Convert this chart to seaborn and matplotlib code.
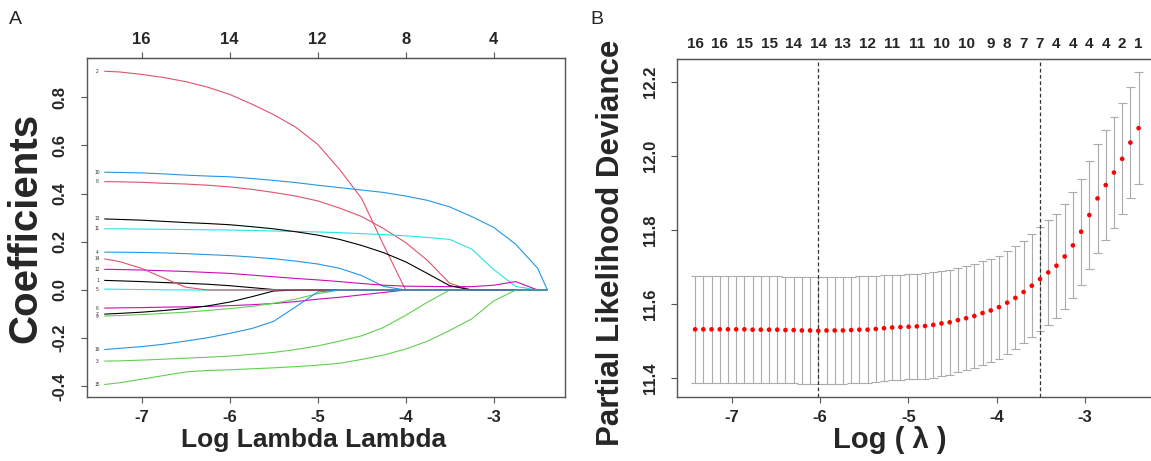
import matplotlib
matplotlib.use("Agg")
import matplotlib.pyplot as plt
import seaborn as sns
import numpy as np
import pandas as pd

# ---- panel A: lasso coefficient paths ----
path_lambda = [-7.42, -7.25, -7.0, -6.75, -6.5, -6.25, -6.0, -5.75, -5.5, -5.25, -5.0,
               -4.75, -4.5, -4.25, -4.0, -3.75, -3.5, -3.25, -3.0, -2.75, -2.5, -2.39]

coef_1 = [0.040, 0.038, 0.035, 0.031, 0.028, 0.024, 0.018, 0.010, 0.002, 0, 0, 0, 0, 0, 0, 0, 0, 0, 0, 0, 0, 0]
coef_2 = [0.908, 0.905, 0.895, 0.882, 0.865, 0.842, 0.812, 0.772, 0.728, 0.676, 0.605, 0.50, 0.38, 0.186, 0, 0, 0, 0, 0, 0, 0, 0]
coef_3 = [-0.295, -0.294, -0.291, -0.287, -0.283, -0.279, -0.274, -0.267, -0.259, -0.247, -0.232, -0.212, -0.19, -0.155, -0.105, -0.05, 0, 0, 0, 0, 0, 0]
coef_4 = [0.157, 0.157, 0.156, 0.154, 0.151, 0.147, 0.143, 0.137, 0.130, 0.120, 0.108, 0.090, 0.060, 0.015, 0, 0, 0, 0, 0, 0, 0, 0]
coef_5 = [0.004, 0.003, 0.002, 0.001, 0.0003, 0, 0, 0, 0, 0, 0, 0, 0, 0, 0, 0, 0, 0, 0, 0, 0, 0]
coef_6 = [-0.075, -0.074, -0.073, -0.071, -0.070, -0.068, -0.065, -0.061, -0.056, -0.048, -0.038, -0.030, -0.020, -0.010, 0, 0, 0, 0, 0, 0, 0, 0]
coef_7 = [-0.100, -0.097, -0.092, -0.085, -0.077, -0.066, -0.050, -0.028, -0.004, 0, 0, 0, 0, 0, 0, 0, 0, 0, 0, 0, 0, 0]
coef_8 = [0.450, 0.449, 0.447, 0.443, 0.440, 0.435, 0.428, 0.418, 0.405, 0.390, 0.370, 0.340, 0.305, 0.255, 0.197, 0.122, 0.028, 0, 0, 0, 0, 0]
coef_9 = [-0.108, -0.106, -0.102, -0.097, -0.092, -0.085, -0.077, -0.068, -0.055, -0.038, -0.015, 0, 0, 0, 0, 0, 0, 0, 0, 0, 0, 0]
coef_10 = [0.489, 0.488, 0.486, 0.482, 0.477, 0.473, 0.470, 0.463, 0.455, 0.446, 0.435, 0.425, 0.415, 0.405, 0.390, 0.372, 0.345, 0.305, 0.260, 0.190, 0.090, 0]
coef_11 = [0.254, 0.254, 0.253, 0.252, 0.251, 0.250, 0.249, 0.247, 0.245, 0.243, 0.241, 0.238, 0.234, 0.230, 0.225, 0.218, 0.210, 0.170, 0.085, 0.015, 0, 0]
coef_12 = [0.086, 0.085, 0.083, 0.080, 0.077, 0.073, 0.069, 0.062, 0.055, 0.048, 0.042, 0.035, 0.027, 0.020, 0.016, 0.015, 0.014, 0.014, 0.020, 0.035, 0, 0]
coef_13 = [0.295, 0.293, 0.290, 0.285, 0.280, 0.276, 0.271, 0.263, 0.254, 0.242, 0.228, 0.210, 0.185, 0.155, 0.117, 0.068, 0.018, 0, 0, 0, 0, 0]
coef_14 = [0.129, 0.118, 0.090, 0.050, 0.012, 0, 0, 0, 0, 0, 0, 0, 0, 0, 0, 0, 0, 0, 0, 0, 0, 0]
coef_15 = [-0.392, -0.385, -0.370, -0.355, -0.340, -0.334, -0.331, -0.327, -0.323, -0.318, -0.312, -0.304, -0.288, -0.270, -0.245, -0.212, -0.168, -0.120, -0.045, 0, 0, 0]
coef_16 = [-0.247, -0.242, -0.235, -0.225, -0.212, -0.198, -0.180, -0.160, -0.130, -0.070, -0.008, 0, 0, 0, 0, 0, 0, 0, 0, 0, 0, 0]

coef_paths = [coef_1, coef_2, coef_3, coef_4, coef_5, coef_6, coef_7, coef_8,
              coef_9, coef_10, coef_11, coef_12, coef_13, coef_14, coef_15, coef_16]
var_names = [str(i) for i in range(1, 17)]

top_df_ticks = [-7, -6, -5, -4, -3]
top_df_labels = ["16", "14", "12", "8", "4"]

# ---- panel B: cross-validation curve ----
cv_lambda = [-7.415, -7.322, -7.229, -7.136, -7.043, -6.950, -6.857, -6.764, -6.671, -6.578,
             -6.485, -6.392, -6.299, -6.206, -6.113, -6.020, -5.927, -5.834, -5.741, -5.648,
             -5.555, -5.462, -5.369, -5.276, -5.183, -5.090, -4.997, -4.904, -4.811, -4.718,
             -4.625, -4.532, -4.439, -4.346, -4.253, -4.160, -4.067, -3.974, -3.881, -3.788,
             -3.695, -3.602, -3.509, -3.416, -3.323, -3.230, -3.137, -3.044, -2.951, -2.858,
             -2.765, -2.672, -2.579, -2.486, -2.393]
cv_mean = [11.532, 11.532, 11.532, 11.532, 11.532, 11.532, 11.532, 11.531, 11.531, 11.531,
           11.531, 11.530, 11.530, 11.529, 11.529, 11.528, 11.529, 11.529, 11.529, 11.530,
           11.531, 11.531, 11.533, 11.535, 11.537, 11.538, 11.539, 11.540, 11.541, 11.544,
           11.548, 11.551, 11.557, 11.562, 11.568, 11.576, 11.583, 11.592, 11.604, 11.617,
           11.633, 11.650, 11.668, 11.686, 11.704, 11.729, 11.759, 11.796, 11.841, 11.886,
           11.922, 11.956, 11.993, 12.037, 12.076]
cv_sd = [0.144, 0.144, 0.144, 0.144, 0.144, 0.144, 0.144, 0.144, 0.144, 0.144,
         0.144, 0.144, 0.144, 0.144, 0.145, 0.145, 0.145, 0.145, 0.144, 0.144,
         0.144, 0.144, 0.143, 0.143, 0.143, 0.142, 0.142, 0.142, 0.143, 0.143,
         0.142, 0.142, 0.141, 0.141, 0.140, 0.140, 0.140, 0.139, 0.139, 0.139,
         0.139, 0.140, 0.141, 0.141, 0.141, 0.142, 0.143, 0.143, 0.145, 0.147,
         0.148, 0.149, 0.150, 0.150, 0.151]
nz_labels = ["16", "16", "15", "15", "14", "14", "13", "12", "11", "11", "10",
             "10", "9", "8", "7", "7", "4", "4", "4", "4", "2", "1"]
nz_index = [0, 3, 6, 9, 12, 15, 18, 21, 24, 27, 30, 33, 36, 38, 40, 42, 44, 46, 48, 50, 52, 54]

r_cols = ["#000000", "#DF536B", "#61D04F", "#2297E6", "#28E2E5", "#CD0BBC"]
axis_col = "#555555"

sns.set_style("ticks")
plt.rcParams["font.family"] = ["Liberation Sans", "DejaVu Sans"]
plt.rcParams["axes.unicode_minus"] = False

W, H = 1151, 461
fig = plt.figure(figsize=(W / 100, H / 100), dpi=100)
ax1 = fig.add_axes([87 / W, 64 / H, 478 / W, 339 / H])
ax2 = fig.add_axes([677 / W, 64 / H, 479.5 / W, 338 / H])

# coefficient paths
path_df = pd.DataFrame({
    "log_lambda": np.tile(path_lambda, len(coef_paths)),
    "coef": np.concatenate(coef_paths),
    "var": np.repeat(var_names, len(path_lambda)),
})
pal = {v: r_cols[i % 6] for i, v in enumerate(var_names)}
sns.lineplot(data=path_df, x="log_lambda", y="coef", hue="var", hue_order=var_names,
             palette=pal, estimator=None, sort=False, legend=False, lw=0.8, ax=ax1)
for v, c in zip(var_names, coef_paths):
    ax1.text(path_lambda[0] - 0.08, c[0], v, fontsize=3.5, ha="center", va="center",
             color="#333333")

ax1.set_xlim(-7.62, -2.19)
ax1.set_ylim(-0.444, 0.963)
ax1.set_xticks([-7, -6, -5, -4, -3])
ax1.set_yticks([-0.4, -0.2, 0.0, 0.2, 0.4, 0.6, 0.8])
ax1.set_yticklabels(["-0.4", "-0.2", "0.0", "0.2", "0.4", "0.6", "0.8"], rotation=90, va="center")
ax1.set_xlabel("")
ax1.set_ylabel("")
top1 = ax1.secondary_xaxis("top")
top1.set_xticks(top_df_ticks)
top1.set_xticklabels(top_df_labels)
top1.tick_params(length=4, width=0.8, color=axis_col, pad=4, labelsize=12)
for lab in top1.get_xticklabels():
    lab.set_fontweight("bold")
top1.spines["top"].set_color(axis_col)

# cv curve with error bars
lower = np.array(cv_mean) - np.array(cv_sd)
upper = np.array(cv_mean) + np.array(cv_sd)
x = np.array(cv_lambda)
bar_col = "#ababab"
ax2.vlines(x, lower, upper, color=bar_col, lw=0.8)
ax2.hlines(upper, x - 0.05, x + 0.05, color=bar_col, lw=0.8)
ax2.hlines(lower, x - 0.05, x + 0.05, color=bar_col, lw=0.8)
sns.scatterplot(x=cv_lambda, y=cv_mean, color="red", s=11, edgecolor="none", ax=ax2, zorder=3)
i_min = int(np.argmin(cv_mean))
i_1se = max(i for i, m in enumerate(cv_mean) if m <= cv_mean[i_min] + cv_sd[i_min])
for i in (i_min, i_1se):
    ax2.axvline(cv_lambda[i], color="#333333", lw=0.9, ls=(0, (3, 2)))

ax2.set_xlim(-7.62, -2.19)
ax2.set_ylim(11.349, 12.263)
ax2.set_xticks([-7, -6, -5, -4, -3])
ax2.set_yticks([11.4, 11.6, 11.8, 12.0, 12.2])
ax2.set_yticklabels(["11.4", "11.6", "11.8", "12.0", "12.2"], rotation=90, va="center")
top2 = ax2.secondary_xaxis("top")
top2.set_xticks([cv_lambda[i] for i in nz_index])
top2.set_xticklabels(nz_labels)
top2.tick_params(length=0, pad=6, labelsize=11)
for lab in top2.get_xticklabels():
    lab.set_fontweight("bold")
top2.spines["top"].set_color(axis_col)

for ax in (ax1, ax2):
    for s in ax.spines.values():
        s.set_visible(True)
        s.set_color(axis_col)
        s.set_linewidth(1)
    ax.tick_params(axis="both", length=4, width=0.8, color=axis_col, labelsize=12)
    ax.tick_params(axis="x", pad=5)
    ax.tick_params(axis="y", pad=10)
    for lab in ax.get_xticklabels() + ax.get_yticklabels():
        lab.set_fontweight("bold")

fig.text(25 / W, 1 - 228 / H, "Coefficients", rotation=90, ha="center", va="center",
         fontsize=29, fontweight="bold")
fig.text(314 / W, 1 - 440 / H, "Log Lambda Lambda", ha="center", va="center",
         fontsize=19, fontweight="bold")
fig.text(611 / W, 1 - 243 / H, "Partial Likelihood Deviance", rotation=90, ha="center",
         va="center", fontsize=22.5, fontweight="bold")
fig.text(890 / W, 1 - 440 / H, "Log ( λ )", ha="center", va="center",
         fontsize=21, fontweight="bold")
fig.text(15 / W, 1 - 20 / H, "A", ha="center", va="center", fontsize=14)
fig.text(597 / W, 1 - 20 / H, "B", ha="center", va="center", fontsize=14)

fig.savefig("out.png", dpi=100)
